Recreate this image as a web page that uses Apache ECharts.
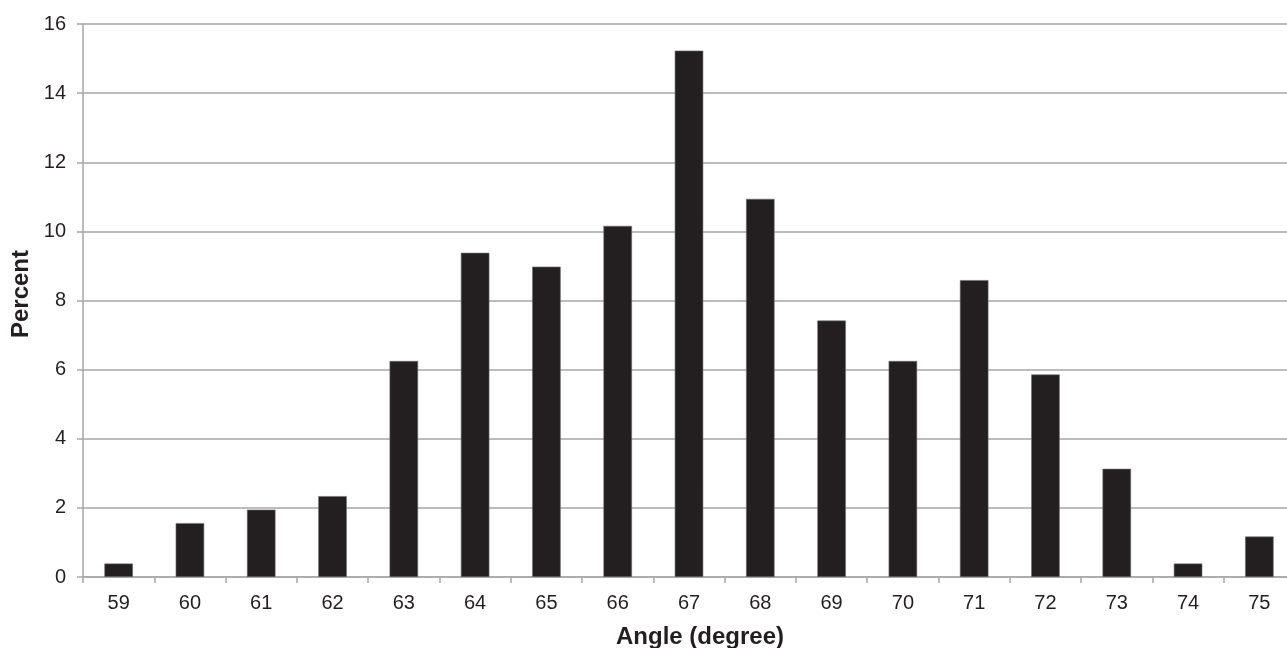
<!DOCTYPE html>
<html>
<head>
<meta charset="utf-8">
<script src="https://cdn.jsdelivr.net/npm/echarts@6/dist/echarts.min.js"></script>
<style>
html,body{margin:0;padding:0;background:#fff;}
#chart{width:1287px;height:648px;}
</style>
</head>
<body>
<div id="chart"></div>
<script>
const categories = ['59','60','61','62','63','64','65','66','67','68','69','70','71','72','73','74','75'];
const percentValues = [0.39,1.56,1.95,2.34,6.25,9.38,8.98,10.16,15.23,10.94,7.42,6.25,8.59,5.86,3.13,0.39,1.17];
const yTicks = {min: 0, max: 16, interval: 2};
const xTitle = 'Angle (degree)';
const yTitle = 'Percent';

const FONT = '"Liberation Sans", Arial, sans-serif';
const TXT = '#231f20';
const GRID = '#a6a6a6';

const chart = echarts.init(document.getElementById('chart'), null, {renderer: 'canvas'});
chart.setOption({
  animation: false,
  backgroundColor: '#ffffff',
  grid: {left: 83, top: 24, width: 1212, height: 553, containLabel: false, outerBoundsMode: 'none'},
  graphic: [{
    type: 'text',
    x: 21,
    y: 294,
    rotation: Math.PI / 2,
    style: {
      text: yTitle,
      fontFamily: FONT, fontSize: 24, fontWeight: 'bold', fill: TXT,
      align: 'center', verticalAlign: 'middle'
    }
  }],
  xAxis: {
    type: 'category',
    data: categories,
    boundaryGap: true,
    name: xTitle,
    nameLocation: 'middle',
    nameGap: 48,
    nameTextStyle: {fontFamily: FONT, fontSize: 24, fontWeight: 'bold', color: TXT, padding: [0, 0, 0, 22], verticalAlign: 'top'},
    axisLine: {show: true, lineStyle: {color: GRID, width: 1.5}},
    axisTick: {show: true, length: 6, alignWithLabel: false, lineStyle: {color: GRID, width: 1.5}},
    axisLabel: {fontFamily: FONT, fontSize: 20, color: TXT, margin: 16}
  },
  yAxis: {
    type: 'value',
    min: yTicks.min,
    max: yTicks.max,
    interval: yTicks.interval,
    axisLine: {show: true, lineStyle: {color: GRID, width: 1.5}},
    axisTick: {show: true, length: 6, lineStyle: {color: GRID, width: 1.5}},
    axisLabel: {fontFamily: FONT, fontSize: 20, color: TXT, margin: 17},
    splitLine: {show: true, lineStyle: {color: GRID, width: 1.5}}
  },
  series: [{
    type: 'bar',
    data: percentValues,
    barWidth: '40%',
    itemStyle: {color: '#231f20', borderColor: '#6e6e6e', borderWidth: 0.6}
  }]
});
</script>
</body>
</html>
